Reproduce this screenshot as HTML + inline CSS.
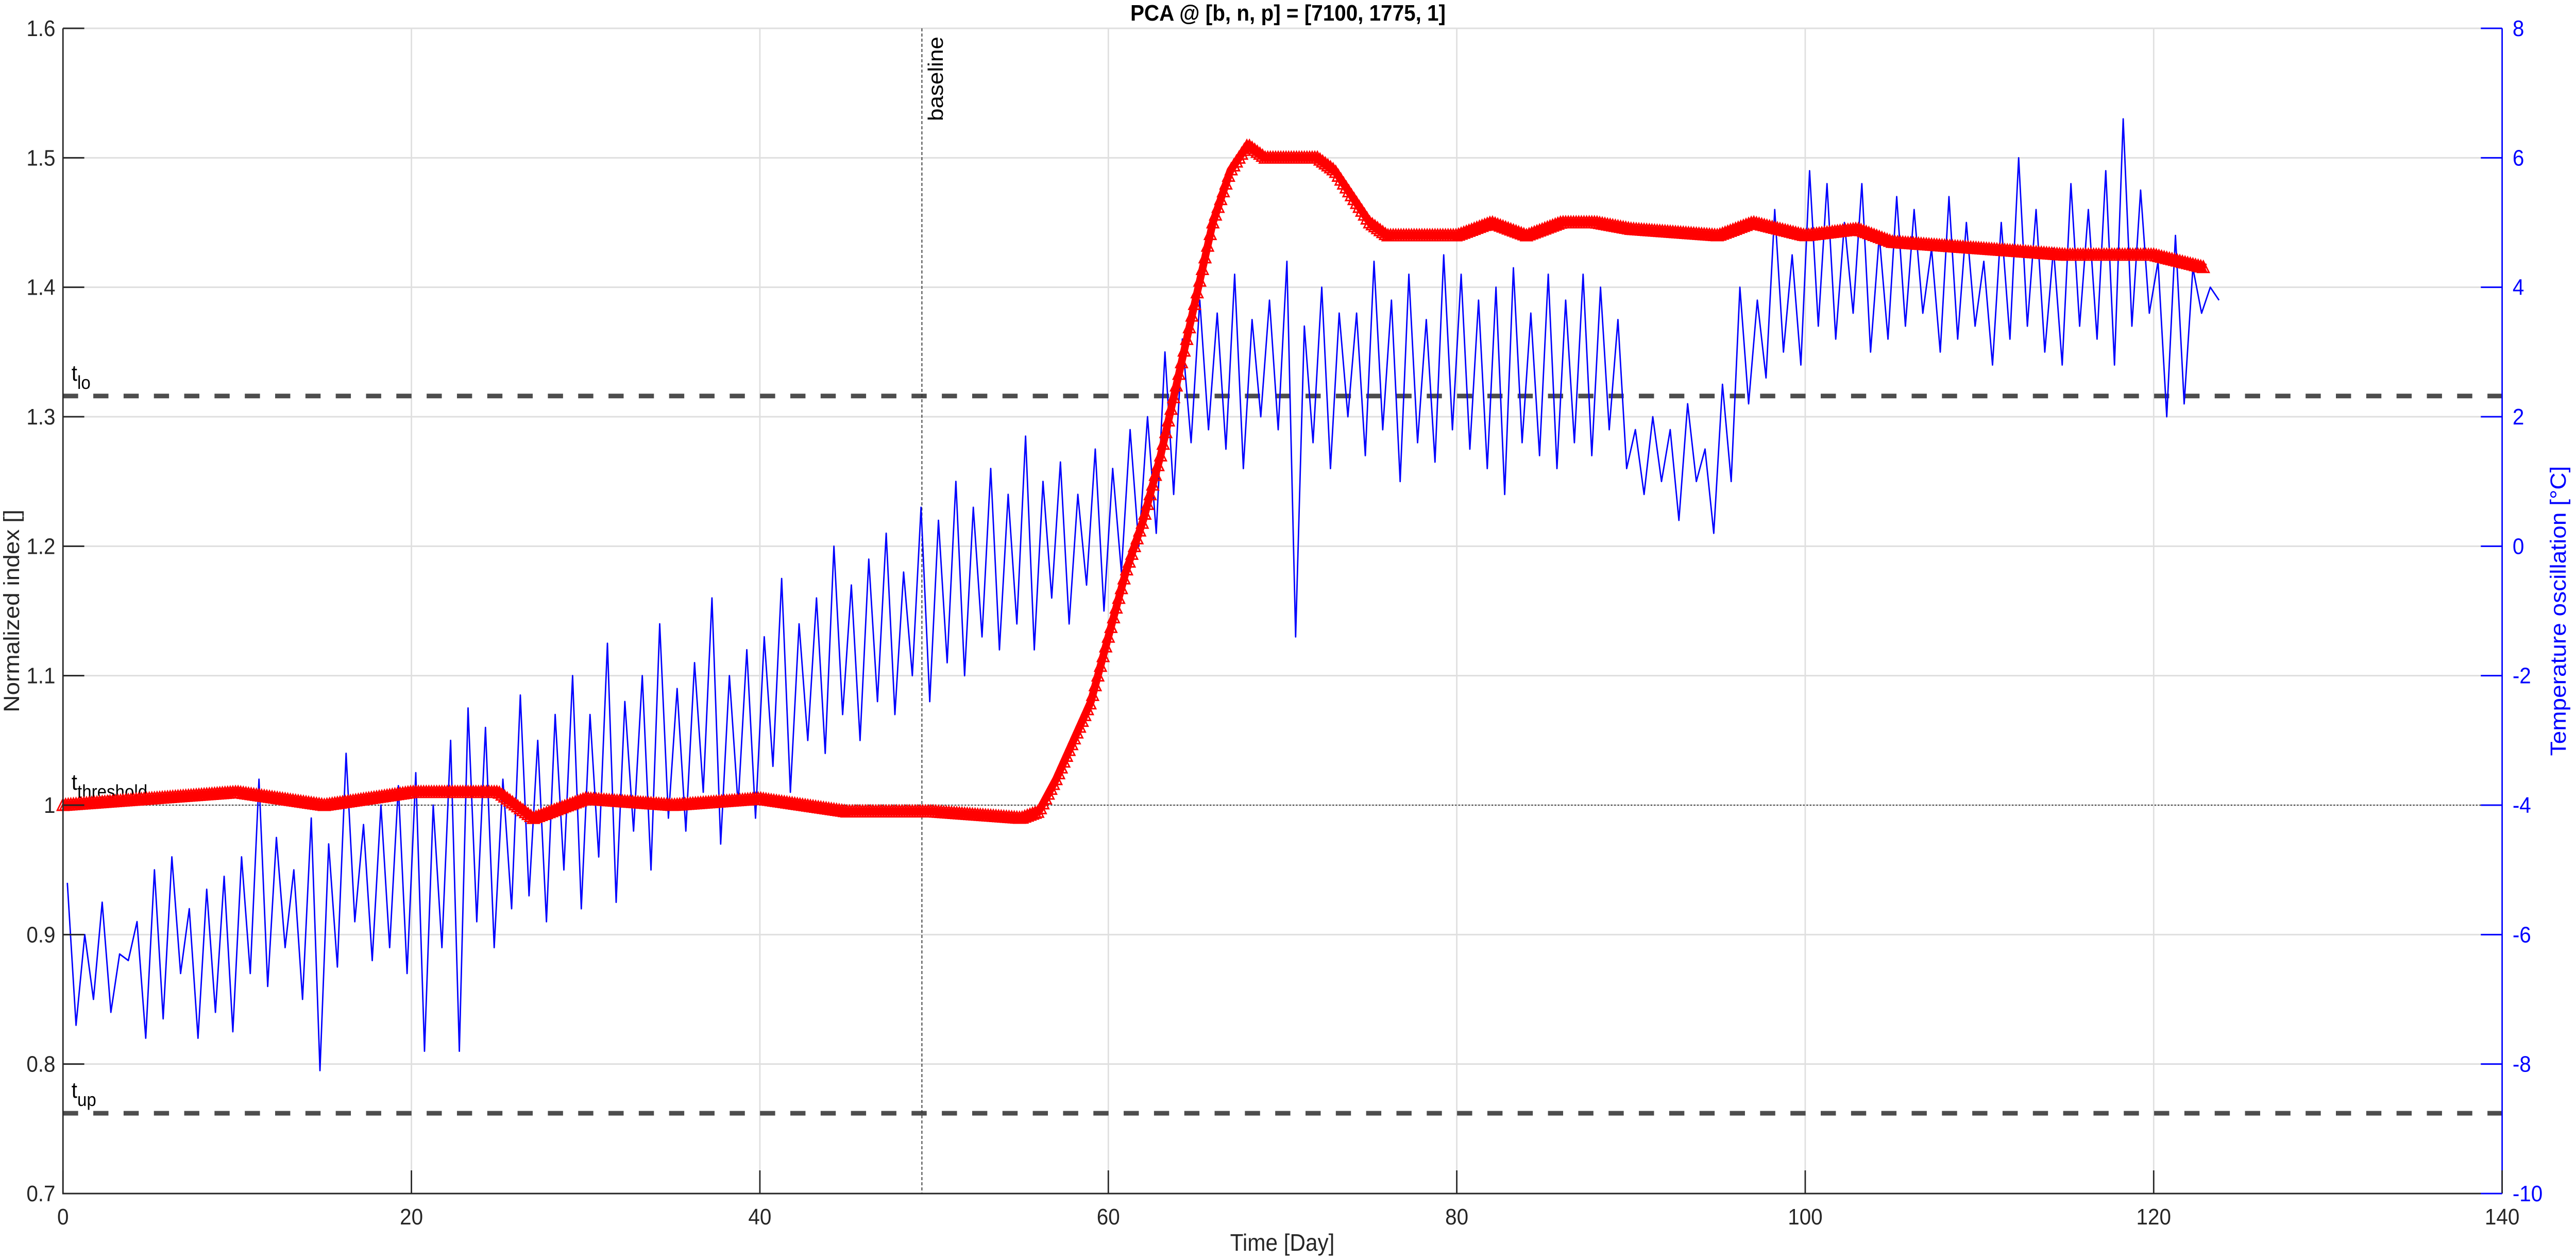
<!DOCTYPE html>
<html><head><meta charset="utf-8"><style>
html,body{margin:0;padding:0;background:#fff;width:100%;height:100%;overflow:hidden;}
svg{display:block;font-family:"Liberation Sans",sans-serif;width:100vw;height:100vh;}
</style></head><body>
<svg id="chart" viewBox="0 0 5440 2446" preserveAspectRatio="none" xmlns="http://www.w3.org/2000/svg">
<g id="grid"></g>
<g id="refs"></g>
<g id="series"></g>
<g id="axes"></g>
<text x="2720" y="40" font-size="44" font-weight="bold" text-anchor="middle" fill="#000">PCA @ [b, n, p] = [7100, 1775, 1]</text>
<text x="2708" y="2428" font-size="46" text-anchor="middle" fill="#262626">Time [Day]</text>
<text transform="translate(40,1186) rotate(-90)" font-size="46" text-anchor="middle" fill="#262626">Normalized index []</text>
<text transform="translate(5418,1186) rotate(-90)" font-size="46" text-anchor="middle" fill="#0000ff">Temperature oscillation [°C]</text>
</svg>
<script>
const xTicks=[0,20,40,60,80,100,120,140];
const yLeftTicks=[0.7,0.8,0.9,1,1.1,1.2,1.3,1.4,1.5,1.6];
const yRightTicks=[-10,-8,-6,-4,-2,0,2,4,6,8];
const thresholds=[1.316,1.0,0.762];
const thresholdNames=['lo','threshold','up'];
const baselineDay=49.3;
const redDays=[0,5,10,15,20,25,27,30,35,40,45,50,55,56,57,58,59,60,61,62,63,64,65,66,67,68,69,70,72,73,74,75,76,78,80,82,84,86,88,90,95,97,100,103,105,110,115,120,123];
const redValues=[1.0,1.005,1.01,1.0,1.01,1.01,0.99,1.005,1.0,1.005,0.995,0.995,0.99,0.995,1.02,1.05,1.08,1.13,1.18,1.22,1.27,1.33,1.39,1.45,1.49,1.51,1.50,1.50,1.50,1.49,1.47,1.45,1.44,1.44,1.44,1.45,1.44,1.45,1.45,1.445,1.44,1.45,1.44,1.445,1.435,1.43,1.425,1.425,1.415];
const tempHighs=[-5.2,-6,-5.5,-6.3,-5.8,-5,-4.8,-5.6,-5.3,-5.1,
-4.8,-3.6,-4.5,-5,-4.2,-4.6,-3.2,-4.3,-4,-3.7,
-3.5,-4,-3,-2.5,-2.8,-3.6,-2.3,-3,-2.6,-2,
-2.6,-1.5,-2.4,-2,-1.2,-2.2,-1.8,-0.8,-2,-1.6,
-1.4,-0.5,-1.2,-0.8,0,-0.6,-0.2,0.2,-0.4,0.6,
0.4,1,0.6,1.2,0.8,1.7,1,1.3,0.8,1.5,
1.2,1.8,2,3,3.2,3.8,3.6,4.2,3.5,3.8,
4.4,3.4,4,3.6,3.6,4.4,3.8,4.2,3.5,4.5,
4.2,3.8,4,4.3,3.6,4.2,3.8,4.2,4,3.5,
1.8,2,1.8,2.2,1.5,2.5,4,3.8,5.2,4.5,
5.8,5.6,5,5.6,4.8,5.4,5.2,4.6,5.4,5,
4.4,5,6,5.2,4.6,5.6,5.2,5.8,6.6,5.5,
4.4,4.8,4.3,4];
const tempLows=[-7.4,-7,-7.2,-6.4,-7.6,-7.3,-6.6,-7.6,-7.2,-7.5,
-6.6,-6.8,-6.2,-7,-8.1,-6.5,-5.8,-6.4,-6.2,-6.6,
-7.8,-6.2,-7.8,-5.8,-6.2,-5.6,-5.4,-5.8,-5,-5.6,
-4.8,-5.5,-4.4,-5,-4.2,-4.4,-3.8,-4.6,-4,-4.2,
-3.4,-3.8,-3,-3.2,-2.6,-3,-2.4,-2.6,-2,-2.4,
-1.8,-2,-1.4,-1.6,-1.2,-1.6,-0.8,-1.2,-0.6,-1,
-0.4,0,0.2,0.8,1.6,1.8,1.5,1.2,2,1.8,
-1.4,1.6,1.2,2,1.4,1.8,1,1.6,1.3,1.8,
1.5,1.2,0.8,1.6,1.4,1.2,1.6,1.4,1.8,1.2,
0.8,1,0.4,1,0.2,1,2.2,2.6,3,2.8,
3.4,3.2,3.6,3,3.2,3.4,3.6,3,3.2,3.4,
2.8,3.2,3.4,3,2.8,3.4,3.2,2.8,3.4,3.6,
2,2.2,3.6,3.8];

const L=133,R=5284,T=55,B=2317;
const NS='http://www.w3.org/2000/svg';
const xS=d=>L+(d-0)/(140-0)*(R-L);
const yL=v=>B-(v-0.7)/(1.6-0.7)*(B-T);
const yR=v=>B-(v+10)/(18)*(B-T);
function mk(tag,attrs,parent,text){const e=document.createElementNS(NS,tag);for(const k in attrs)e.setAttribute(k,attrs[k]);if(text!==undefined)e.textContent=text;parent.appendChild(e);return e;}
const grid=document.getElementById('grid'),refs=document.getElementById('refs'),series=document.getElementById('series'),axes=document.getElementById('axes');

xTicks.forEach(t=>{const l=mk('line',{x1:xS(t),x2:xS(t),y1:T,y2:B,stroke:'#dfdfdf','stroke-width':3},grid);

});
yLeftTicks.forEach(t=>{const l=mk('line',{x1:L,x2:R,y1:yL(t),y2:yL(t),stroke:'#dfdfdf','stroke-width':3},grid);

});

thresholds.forEach((v,i)=>{
 const dashed=thresholdNames[i]!=='threshold';
 const l=mk('line',{x1:L,x2:R,y1:yL(v),y2:yL(v),stroke:dashed?'#4d4d4d':'#333','stroke-width':dashed?9:2,'stroke-dasharray':dashed?'32 32':'3 4'},refs);
 
 
 const tx=mk('text',{x:L+18,y:yL(v)-30,'font-size':44,fill:'#000'},refs);
 
 
 mk('tspan',{},tx,'t');
 mk('tspan',{dy:16,'font-size':36},tx,thresholdNames[i]);
});
const bl=mk('line',{x1:xS(baselineDay),x2:xS(baselineDay),y1:T,y2:B,stroke:'#333','stroke-width':2,'stroke-dasharray':'6 4'},refs);


const blt=mk('text',{x:0,y:0,'font-size':44,fill:'#000',transform:`translate(${xS(baselineDay)+44},${T+180}) rotate(-90)`},refs,'baseline');



let pts=[];
tempHighs.forEach((h,i)=>{pts.push(xS(i+0.25)+','+yR(h));if(i<tempLows.length)pts.push(xS(i+0.75)+','+yR(tempLows[i]));});
const blue=mk('polyline',{points:pts.join(' '),fill:'none',stroke:'#0000ff','stroke-width':3,'stroke-linejoin':'round'},series);



function redAt(d){for(let i=0;i<redDays.length-1;i++){if(d<=redDays[i+1]){const f=(d-redDays[i])/(redDays[i+1]-redDays[i]);return redValues[i]+f*(redValues[i+1]-redValues[i]);}}return redValues[redValues.length-1];}
const rl=mk('polyline',{points:redDays.map((d,i)=>xS(d)+','+yL(redValues[i])).join(' '),fill:'none',stroke:'#ff0000','stroke-width':16,'stroke-linejoin':'round'},series);


let dpath='';
const last=redDays[redDays.length-1];
for(let d=0;d<=last;d+=0.15){const x=xS(d),y=yL(redAt(d));dpath+=`M${x-12},${y+10}L${x},${y-12}L${x+12},${y+10}Z`;}
const tri=mk('path',{d:dpath,fill:'none',stroke:'#ff0000','stroke-width':3},series);



const box=mk('path',{d:`M${L},${T}V${B}H${R}`,fill:'none',stroke:'#262626','stroke-width':3},axes);


const ra=mk('line',{x1:R,x2:R,y1:T,y2:B,stroke:'#0000ff','stroke-width':3},axes);


xTicks.forEach(t=>{mk('line',{x1:xS(t),x2:xS(t),y1:B,y2:B-45,stroke:'#262626','stroke-width':3},axes);
 const tx=mk('text',{x:xS(t),y:B+60,'font-size':44,'text-anchor':'middle',fill:'#262626'},axes,String(t));
 
 });
yLeftTicks.forEach(t=>{mk('line',{x1:L,x2:L+45,y1:yL(t),y2:yL(t),stroke:'#262626','stroke-width':3},axes);
 const tx=mk('text',{x:L-16,y:yL(t)+15,'font-size':44,'text-anchor':'end',fill:'#262626'},axes,String(t));
 
 });
yRightTicks.forEach(t=>{mk('line',{x1:R,x2:R-45,y1:yR(t),y2:yR(t),stroke:'#0000ff','stroke-width':3},axes);
 const tx=mk('text',{x:R+22,y:yR(t)+15,'font-size':44,'text-anchor':'start',fill:'#0000ff'},axes,String(t));
 
 });
</script>
</body></html>
